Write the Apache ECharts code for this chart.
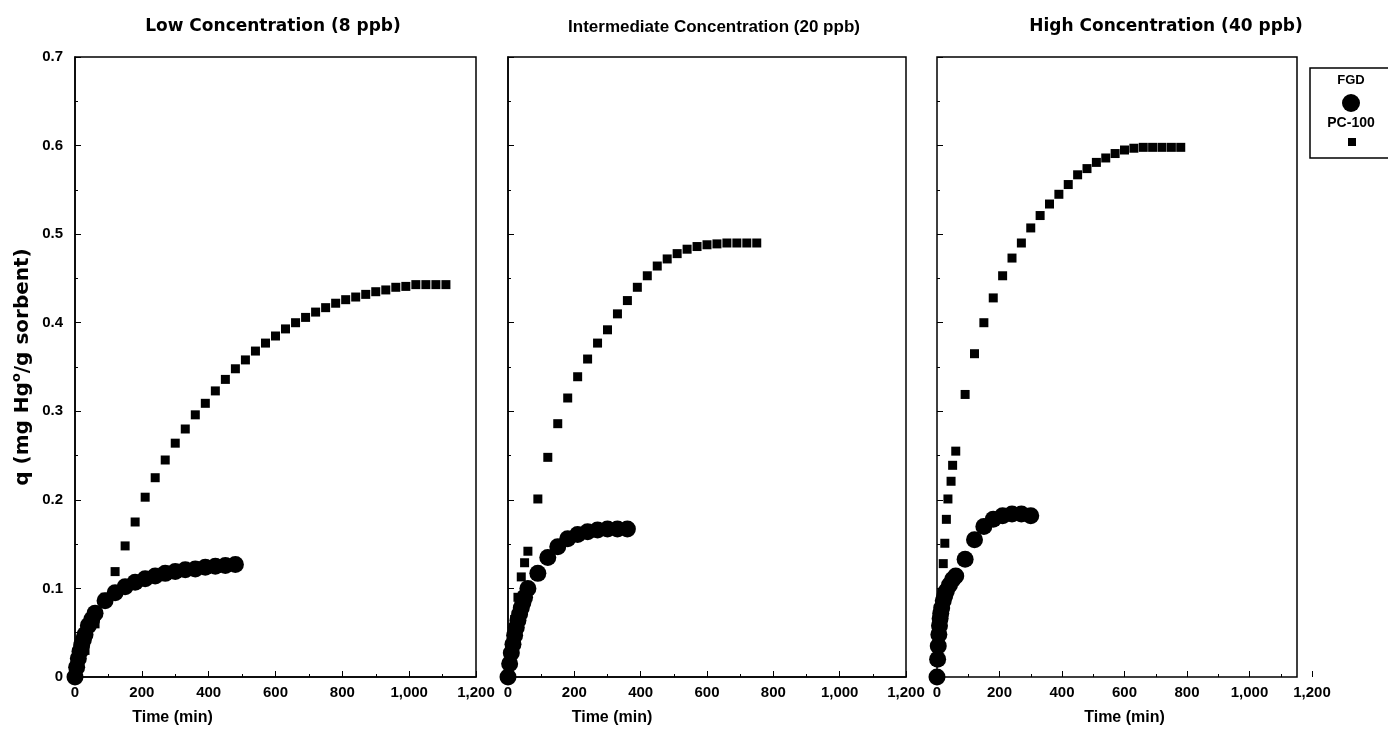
<!DOCTYPE html>
<html>
<head>
<meta charset="utf-8">
<script src="https://cdn.jsdelivr.net/npm/echarts@6/dist/echarts.min.js"></script>
<style>
html,body{margin:0;padding:0;background:#fff;}
#c{width:1388px;height:744px;}
</style>
</head>
<body>
<div id="c"></div>
<script>
// ---- data ----
const panelTitles = ['Low Concentration (8 ppb)', 'Intermediate Concentration (20 ppb)', 'High Concentration (40 ppb)'];
const xTicks = [0, 200, 400, 600, 800, 1000, 1200];
const yTicks = [0, 0.1, 0.2, 0.3, 0.4, 0.5, 0.6, 0.7];

const lowFgdTime = [0,5,10,15,20,25,30,40,50,60,90,120,150,180,210,240,270,300,330,360,390,420,450,480];
const lowFgdQ    = [0,0.011,0.021,0.029,0.036,0.042,0.048,0.058,0.065,0.072,0.086,0.095,0.102,0.107,0.111,0.114,0.117,0.119,0.121,0.122,0.124,0.125,0.126,0.127];
const lowPcTime  = [0,30,60,90,120,150,180,210,240,270,300,330,360,390,420,450,480,510,540,570,600,630,660,690,720,750,780,810,840,870,900,930,960,990,1020,1050,1080,1110];
const lowPcQ     = [0,0.03,0.06,0.09,0.119,0.148,0.175,0.203,0.225,0.245,0.264,0.280,0.296,0.309,0.323,0.336,0.348,0.358,0.368,0.377,0.385,0.393,0.400,0.406,0.412,0.417,0.422,0.426,0.429,0.432,0.435,0.437,0.440,0.441,0.443,0.443,0.443,0.443];

const midFgdTime = [0,5,10,15,20,25,30,35,40,45,50,60,90,120,150,180,210,240,270,300,330,360];
const midFgdQ    = [0,0.015,0.027,0.037,0.047,0.056,0.064,0.071,0.078,0.084,0.09,0.1,0.117,0.135,0.147,0.156,0.161,0.164,0.166,0.167,0.167,0.167];
const midPcTime  = [0,10,20,30,40,50,60,90,120,150,180,210,240,270,300,330,360,390,420,450,480,510,540,570,600,630,660,690,720,750];
const midPcQ     = [0,0.035,0.065,0.09,0.113,0.129,0.142,0.201,0.248,0.286,0.315,0.339,0.359,0.377,0.392,0.410,0.425,0.440,0.453,0.464,0.472,0.478,0.483,0.486,0.488,0.489,0.490,0.490,0.490,0.490];

const highFgdTime = [0,2,4,6,8,10,12,15,20,25,30,40,50,60,90,120,150,180,210,240,270,300];
const highFgdQ    = [0,0.02,0.035,0.048,0.058,0.066,0.072,0.078,0.086,0.092,0.097,0.104,0.110,0.114,0.133,0.155,0.170,0.178,0.182,0.184,0.184,0.182];
const highPcTime  = [0,5,10,15,20,25,30,35,45,50,60,90,120,150,180,210,240,270,300,330,360,390,420,450,480,510,540,570,600,630,660,690,720,750,780];
const highPcQ     = [0,0.03,0.06,0.095,0.128,0.151,0.178,0.201,0.221,0.239,0.255,0.319,0.365,0.400,0.428,0.453,0.473,0.490,0.507,0.521,0.534,0.545,0.556,0.567,0.574,0.581,0.586,0.591,0.595,0.597,0.598,0.598,0.598,0.598,0.598];

const seriesNames = ['FGD', 'PC-100'];
// ---- chart ----
const FONT = '"Liberation Sans", Arial, Helvetica, sans-serif';
const WIDE = '"DejaVu Sans", "Liberation Sans", sans-serif';
const pair = (t, q) => t.map((v, i) => [v, q[i]]);

const grids = [
  {left: 75, top: 57, width: 401, height: 620, show: true, borderColor: '#000', borderWidth: 1.5},
  {left: 508, top: 57, width: 398, height: 620, show: true, borderColor: '#000', borderWidth: 1.5},
  {left: 937, top: 57, width: 375, height: 620, show: false}
];
// padding-right used to shift the axis name left of the axis middle
const namePad = [206, 190, 0];

function xAxis(i) {
  return {
    type: 'value', gridIndex: i, min: xTicks[0], max: xTicks[xTicks.length - 1], interval: xTicks[1] - xTicks[0],
    axisLine: {show: i !== 2, lineStyle: {color: '#000', width: 1.5}},
    axisTick: {show: true, inside: true, length: 6, lineStyle: {color: '#000'}},
    minorTick: {show: true, splitNumber: 2, length: 3, lineStyle: {color: '#000'}},
    splitLine: {show: false},
    axisLabel: {color: '#000', fontFamily: FONT, fontWeight: 'bold', fontSize: 15, margin: 8},
    name: 'Time (min)', nameLocation: 'middle', nameGap: 33,
    nameTextStyle: {color: '#000', fontFamily: FONT, fontWeight: 'bold', fontSize: 16, padding: [0, namePad[i], 0, 0]}
  };
}
function yAxis(i) {
  const a = {
    type: 'value', gridIndex: i, min: yTicks[0], max: yTicks[yTicks.length - 1], interval: 0.1,
    axisLine: {show: i !== 2, lineStyle: {color: '#000', width: 1.5}},
    axisTick: {show: true, inside: true, length: 6, lineStyle: {color: '#000'}},
    minorTick: {show: true, splitNumber: 2, length: 3, lineStyle: {color: '#000'}},
    splitLine: {show: false},
    axisLabel: {show: i === 0, color: '#000', fontFamily: FONT, fontWeight: 'bold', fontSize: 15, margin: 12}
  };
  if (i === 0) {
    a.name = 'q (mg Hg{sup|o}/g sorbent)';
    a.nameLocation = 'middle';
    a.nameGap = 40;
    a.nameTextStyle = {color: '#000', fontFamily: WIDE, fontWeight: 'bold', fontSize: 20,
      rich: {sup: {fontSize: 13, fontFamily: WIDE, fontWeight: 'bold', color: '#000', padding: [0, 0, 12, 0]}}};
  }
  return a;
}

const fgdData = [pair(lowFgdTime, lowFgdQ), pair(midFgdTime, midFgdQ), pair(highFgdTime, highFgdQ)];
const pcData = [pair(lowPcTime, lowPcQ), pair(midPcTime, midPcQ), pair(highPcTime, highPcQ)];
const series = [];
for (let i = 0; i < 3; i++) {
  series.push({type: 'scatter', name: seriesNames[0], xAxisIndex: i, yAxisIndex: i, data: fgdData[i],
    symbol: 'circle', symbolSize: 17, itemStyle: {color: '#000', opacity: 1}, z: 2});
  series.push({type: 'scatter', name: seriesNames[1], xAxisIndex: i, yAxisIndex: i, data: pcData[i],
    symbol: 'rect', symbolSize: 9, itemStyle: {color: '#000', opacity: 1}, z: 3});
}

const titleStyle = {color: '#000', fontFamily: WIDE, fontWeight: 'bold', fontSize: 17};
const option = {
  backgroundColor: '#fff',
  animation: false,
  title: [
    {text: panelTitles[0], left: 268, top: 13, textAlign: 'center', textStyle: titleStyle},
    {text: panelTitles[1], left: 709, top: 14, textAlign: 'center', textStyle: {color: '#000', fontFamily: FONT, fontWeight: 'bold', fontSize: 17}},
    {text: panelTitles[2], left: 1161, top: 13, textAlign: 'center', textStyle: titleStyle}
  ],
  grid: grids,
  xAxis: [0, 1, 2].map(xAxis),
  yAxis: [0, 1, 2].map(yAxis),
  series: series,
  graphic: [
    {type: 'rect', shape: {x: 937, y: 57, width: 360, height: 620}, style: {fill: 'none', stroke: '#000', lineWidth: 1.5}, silent: true},
    {type: 'rect', shape: {x: 1310, y: 68, width: 80, height: 90}, style: {fill: '#fff', stroke: '#000', lineWidth: 1.5}, silent: true},
    {type: 'text', x: 1351, y: 74, style: {text: seriesNames[0], fill: '#000', font: 'bold 13px ' + FONT, textAlign: 'center'}},
    {type: 'circle', shape: {cx: 1351, cy: 103, r: 9}, style: {fill: '#000'}},
    {type: 'text', x: 1351, y: 116, style: {text: seriesNames[1], fill: '#000', font: 'bold 14px ' + FONT, textAlign: 'center'}},
    {type: 'rect', shape: {x: 1348, y: 138, width: 8, height: 8}, style: {fill: '#000'}}
  ]
};
const chart = echarts.init(document.getElementById('c'), null, {renderer: 'canvas'});
chart.setOption(option);
</script>
</body>
</html>
